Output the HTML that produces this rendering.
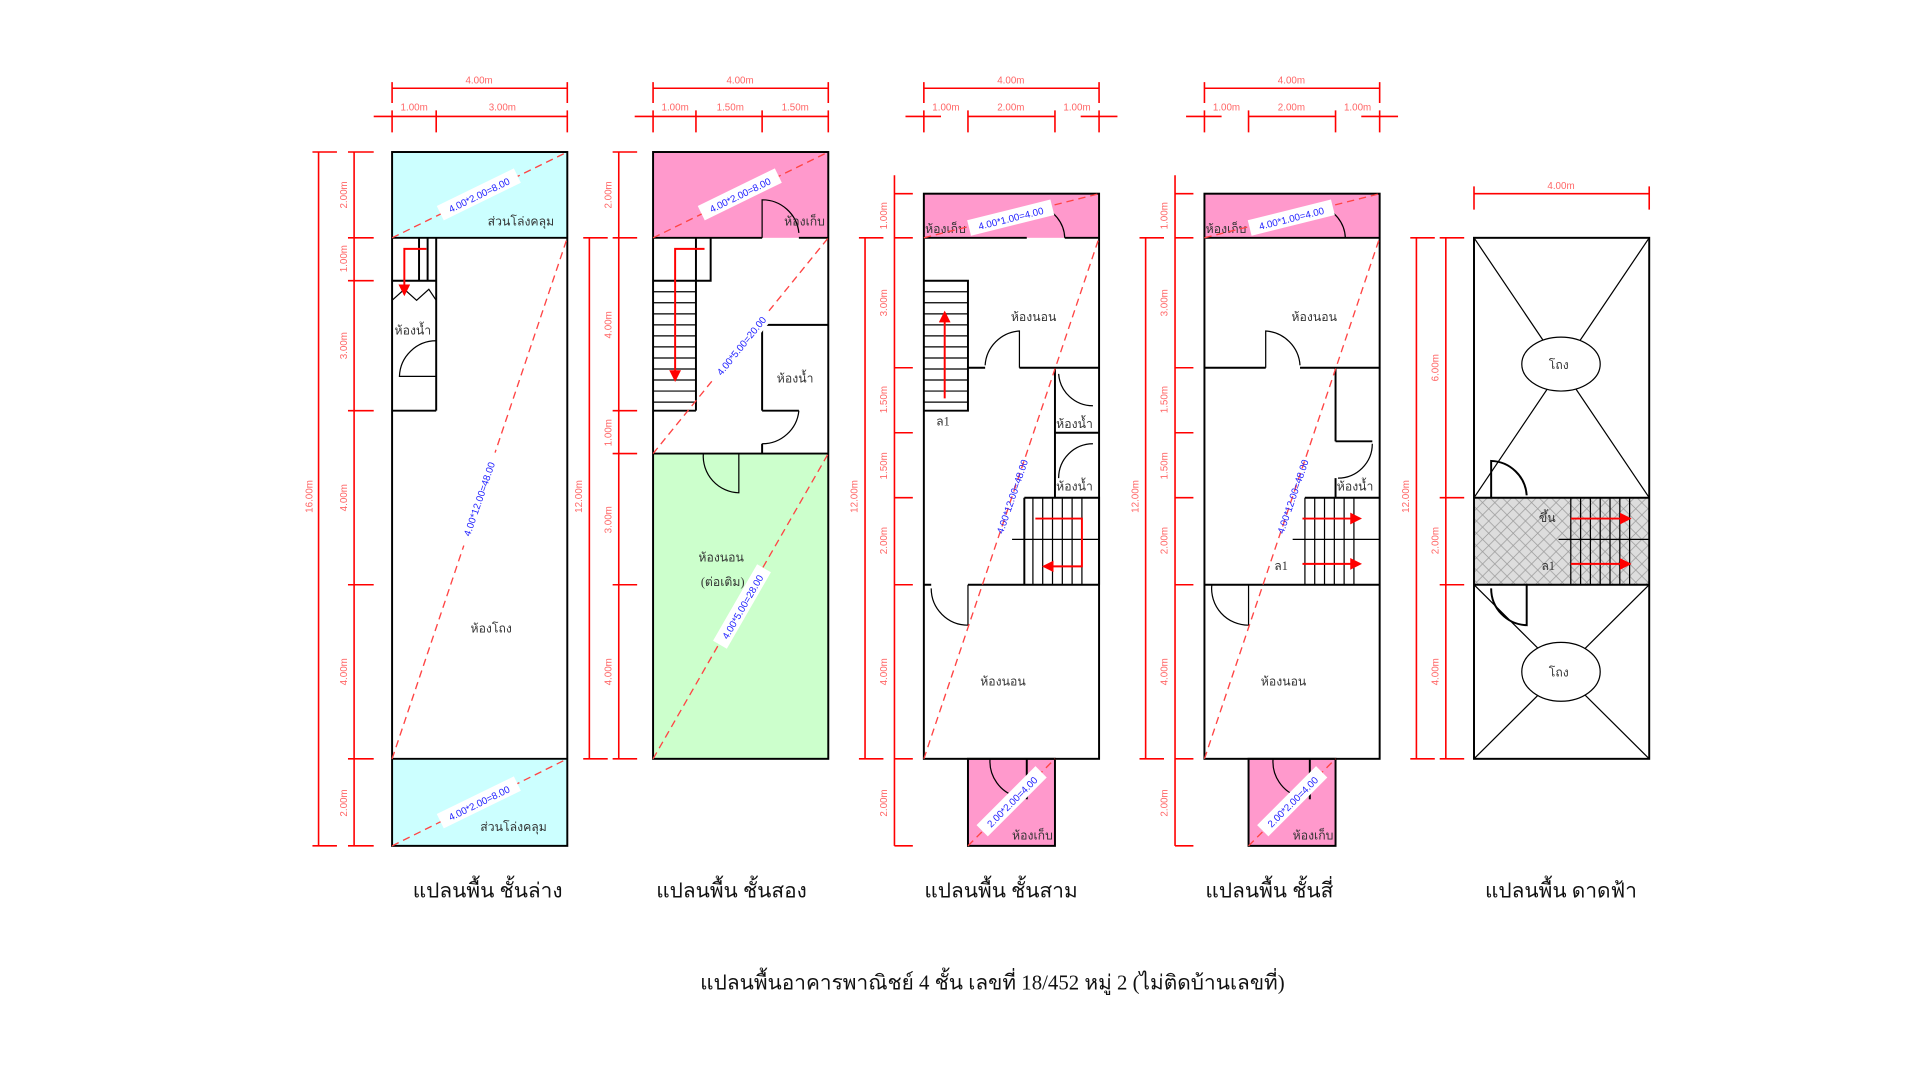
<!DOCTYPE html>
<html><head><meta charset="utf-8"><style>
html,body{margin:0;padding:0;background:#fff;width:1920px;height:1080px;overflow:hidden}
svg{display:block}
.w{stroke:#000;stroke-width:1.6;fill:none}
.t{stroke:#000;stroke-width:1;fill:none}
.d{stroke:#f00;stroke-width:1.3;fill:none}
.dg{stroke:#f44;stroke-width:1.1;stroke-dasharray:6 4;fill:none}
.dl{font-family:"Liberation Sans",sans-serif;font-size:8px;fill:#f66}
.bl{font-family:"Liberation Sans",sans-serif;font-size:8px;fill:#22f}
.th{font-family:"Liberation Serif","DejaVu Sans",sans-serif;font-size:10px;fill:#333}
.ti{font-family:"Liberation Serif","DejaVu Sans",sans-serif;font-size:17px;fill:#111}
.ar{stroke:#f00;stroke-width:1.6;fill:none}
</style></head><body>
<svg width="1920" height="1080" viewBox="0 0 1567 881" preserveAspectRatio="none" xmlns="http://www.w3.org/2000/svg">
<defs>
<marker id="ah" markerWidth="6" markerHeight="6" refX="5" refY="3" orient="auto"><path d="M0,0L6,3L0,6z" fill="#f00"/></marker>
<pattern id="hat" width="10" height="10" patternUnits="userSpaceOnUse"><rect width="10" height="10" fill="#ddd"/><path d="M0,0L10,10M10,0L0,10" stroke="#999" stroke-width="0.6"/></pattern>
</defs>

<!-- ================= PLAN 1 ================= -->
<rect x="320" y="124" width="143" height="70" fill="#ccffff"/>
<rect x="320" y="619" width="143" height="71" fill="#ccffff"/>
<rect x="320" y="124" width="143" height="566" class="w"/>
<path d="M320 194H463M320 619H463M356 194V335M320 229H356M320 335H356M342 194V229M349 194V229" class="w"/>
<path d="M320 245L330 236L340 245L350 236L356 245" class="t"/>
<path d="M356 278A30 30 0 0 0 326 307H356" class="t"/>
<path class="ar" d="M348 203H330V240" marker-end="url(#ah)"/>
<text x="322" y="273" class="th">ห้องน้ำ</text>
<text x="398" y="184" class="th">ส่วนโล่งคลุม</text>
<text x="384" y="516" class="th" font-size="12">ห้องโถง</text>
<text x="392" y="678" class="th">ส่วนโล่งคลุม</text>
<path d="M320 194L463 124M320 619L463 194M320 690L463 619" class="dg"/>
<g transform="translate(391,159) rotate(-26)"><rect x="-35" y="-7" width="70" height="13" fill="#fff"/><text x="0" y="3" class="bl" text-anchor="middle">4.00*2.00=8.00</text></g>
<g transform="translate(391,407) rotate(-71)"><rect x="-40" y="-7" width="80" height="13" fill="#fff"/><text x="0" y="3" class="bl" text-anchor="middle">4.00*12.00=48.00</text></g>
<g transform="translate(391,655) rotate(-26)"><rect x="-35" y="-7" width="70" height="13" fill="#fff"/><text x="0" y="3" class="bl" text-anchor="middle">4.00*2.00=8.00</text></g>
<path class="d" d="M320 72H463M320 67V84M463 67V84M305 95H463M320 90V108M356 90V108M463 90V108"/>
<text x="391" y="68" class="dl" text-anchor="middle">4.00m</text>
<text x="338" y="90" class="dl" text-anchor="middle">1.00m</text>
<text x="410" y="90" class="dl" text-anchor="middle">3.00m</text>
<path class="d" d="M260 124V690M255 124H275M255 690H275M289 124V690M284 124H305M284 194H305M284 229H305M284 335H305M284 477H305M284 619H305M284 690H305"/>
<text transform="translate(255,405) rotate(-90)" class="dl" text-anchor="middle">16.00m</text>
<text transform="translate(283,159) rotate(-90)" class="dl" text-anchor="middle">2.00m</text>
<text transform="translate(283,211) rotate(-90)" class="dl" text-anchor="middle">1.00m</text>
<text transform="translate(283,282) rotate(-90)" class="dl" text-anchor="middle">3.00m</text>
<text transform="translate(283,406) rotate(-90)" class="dl" text-anchor="middle">4.00m</text>
<text transform="translate(283,548) rotate(-90)" class="dl" text-anchor="middle">4.00m</text>
<text transform="translate(283,655) rotate(-90)" class="dl" text-anchor="middle">2.00m</text>

<!-- ================= PLAN 2 ================= -->
<rect x="533" y="124" width="143" height="70" fill="#ff99cc"/>
<rect x="533" y="370" width="143" height="249" fill="#ccffcc"/>
<rect x="533" y="124" width="143" height="495" class="w" stroke-width="2"/>
<path d="M533 194H622M652 194H676M533 370H676M568 194V335M533 229H580V194M533 335H568M622 265H676M622 265V335M622 335H652M622 362V370" class="w"/>
<g class="t"><path d="M533 238H568M533 247H568M533 256H568M533 265H568M533 274H568M533 283H568M533 292H568M533 301H568M533 310H568M533 319H568M533 328H568"/></g>
<path d="M622 194V163A30 30 0 0 1 652 190" class="t"/>
<path d="M652 335A30 30 0 0 1 622 362" class="t"/>
<path d="M574 370A30 30 0 0 0 603 402V370" class="t"/>
<path class="ar" d="M575 203H551V310" marker-end="url(#ah)"/>
<text x="640" y="184" class="th">ห้องเก็บ</text>
<text x="634" y="312" class="th" font-size="12">ห้องน้ำ</text>
<text x="570" y="458" class="th" font-size="12">ห้องนอน</text>
<text x="572" y="478" class="th" font-size="12">(ต่อเติม)</text>
<path d="M533 194L676 124M533 370L676 194M533 619L676 370" class="dg"/>
<g transform="translate(604,159) rotate(-26)"><rect x="-35" y="-7" width="70" height="13" fill="#fff"/><text x="0" y="3" class="bl" text-anchor="middle">4.00*2.00=8.00</text></g>
<g transform="translate(605,282) rotate(-51)"><rect x="-36" y="-7" width="72" height="13" fill="#fff"/><text x="0" y="3" class="bl" text-anchor="middle">4.00*5.00=20.00</text></g>
<g transform="translate(606,495) rotate(-60)"><rect x="-36" y="-7" width="72" height="13" fill="#fff"/><text x="0" y="3" class="bl" text-anchor="middle">4.00*5.00=28.00</text></g>
<path class="d" d="M533 72H676M533 67V84M676 67V84M518 95H676M533 90V108M568 90V108M622 90V108M676 90V108"/>
<text x="604" y="68" class="dl" text-anchor="middle">4.00m</text>
<text x="551" y="90" class="dl" text-anchor="middle">1.00m</text>
<text x="596" y="90" class="dl" text-anchor="middle">1.50m</text>
<text x="649" y="90" class="dl" text-anchor="middle">1.50m</text>
<path class="d" d="M481 194V619M476 194H496M476 619H496M505 124V619M500 124H520M500 194H520M500 335H520M500 370H520M500 477H520M500 619H520"/>
<text transform="translate(475,405) rotate(-90)" class="dl" text-anchor="middle">12.00m</text>
<text transform="translate(499,159) rotate(-90)" class="dl" text-anchor="middle">2.00m</text>
<text transform="translate(499,265) rotate(-90)" class="dl" text-anchor="middle">4.00m</text>
<text transform="translate(499,353) rotate(-90)" class="dl" text-anchor="middle">1.00m</text>
<text transform="translate(499,424) rotate(-90)" class="dl" text-anchor="middle">3.00m</text>
<text transform="translate(499,548) rotate(-90)" class="dl" text-anchor="middle">4.00m</text>

<!-- ================= PLAN 3 ================= -->
<rect x="754" y="158" width="143" height="36" fill="#ff99cc"/>
<rect x="790" y="619" width="71" height="71" fill="#ff99cc"/>
<rect x="754" y="158" width="143" height="461" class="w"/>
<rect x="790" y="619" width="71" height="71" class="w"/>
<path d="M754 194H838M869 194H897M790 300H804M832 300H861V406M861 300H897M861 353H897M861 406H897M754 477H760M790 477H897M836 406H897V477M836 406V477" class="w"/>
<path d="M754 229H790V335H754" class="w"/>
<g class="t"><path d="M754 238H790M754 247H790M754 256H790M754 265H790M754 274H790M754 283H790M754 292H790M754 301H790M754 310H790M754 319H790M754 328H790M843 406V477M851 406V477M859 406V477M867 406V477M875 406V477M883 406V477M826 440H897"/></g>
<path class="ar" d="M771 325V255" marker-end="url(#ah)"/>
<path class="ar" d="M845 423H883V462H852" marker-end="url(#ah)"/>
<path d="M832 300V270A30 30 0 0 0 804 298" class="t"/>
<path d="M869 194A28 28 0 0 0 848 168" class="t"/>
<path d="M864 305A28 28 0 0 0 892 331" class="t"/>
<path d="M864 390A28 28 0 0 1 892 362" class="t"/>
<path d="M790 477V510A30 30 0 0 1 760 480" class="t"/>
<path d="M838 619V652" class="w" stroke-width="2"/><path d="M808 619A30 30 0 0 0 830 650" class="t"/>
<text x="755" y="190" class="th">ห้องเก็บ</text>
<text x="825" y="262" class="th" font-size="12">ห้องนอน</text>
<text x="862" y="349" class="th">ห้องน้ำ</text>
<text x="862" y="400" class="th">ห้องน้ำ</text>
<text x="764" y="347" class="th">ล1</text>
<text x="800" y="559" class="th" font-size="12">ห้องนอน</text>
<text x="826" y="685" class="th">ห้องเก็บ</text>
<path d="M754 194L897 158M754 619L897 194M790 690L861 619" class="dg"/>
<g transform="translate(825,178) rotate(-14)"><rect x="-35" y="-7" width="70" height="13" fill="#fff"/><text x="0" y="3" class="bl" text-anchor="middle">4.00*1.00=4.00</text></g>
<g transform="translate(826,405) rotate(-71)"><text x="0" y="3" class="bl" text-anchor="middle">4.00*12.00=48.00</text></g>
<g transform="translate(826,654) rotate(-45)"><rect x="-34" y="-7" width="68" height="13" fill="#fff"/><text x="0" y="3" class="bl" text-anchor="middle">2.00*2.00=4.00</text></g>
<path class="d" d="M754 72H897M754 67V84M897 67V84M739 95H768M790 95H861M882 95H912M754 90V108M790 90V108M861 90V108M897 90V108"/>
<text x="825" y="68" class="dl" text-anchor="middle">4.00m</text>
<text x="772" y="90" class="dl" text-anchor="middle">1.00m</text>
<text x="825" y="90" class="dl" text-anchor="middle">2.00m</text>
<text x="879" y="90" class="dl" text-anchor="middle">1.00m</text>
<path class="d" d="M706 194V619M701 194H721M701 619H721M730 143V690M730 158H745M730 194H745M730 300H745M730 353H745M730 406H745M730 477H745M730 619H745M730 690H745"/>
<text transform="translate(700,405) rotate(-90)" class="dl" text-anchor="middle">12.00m</text>
<text transform="translate(724,176) rotate(-90)" class="dl" text-anchor="middle">1.00m</text>
<text transform="translate(724,247) rotate(-90)" class="dl" text-anchor="middle">3.00m</text>
<text transform="translate(724,326) rotate(-90)" class="dl" text-anchor="middle">1.50m</text>
<text transform="translate(724,380) rotate(-90)" class="dl" text-anchor="middle">1.50m</text>
<text transform="translate(724,441) rotate(-90)" class="dl" text-anchor="middle">2.00m</text>
<text transform="translate(724,548) rotate(-90)" class="dl" text-anchor="middle">4.00m</text>
<text transform="translate(724,655) rotate(-90)" class="dl" text-anchor="middle">2.00m</text>

<!-- ================= PLAN 4 ================= -->
<rect x="983" y="158" width="143" height="36" fill="#ff99cc"/>
<rect x="1019" y="619" width="71" height="71" fill="#ff99cc"/>
<rect x="983" y="158" width="143" height="461" class="w"/>
<rect x="1019" y="619" width="71" height="71" class="w"/>
<path d="M983 194H1126M983 300H1033M1061 300H1126M1090 300V360M1090 360H1120M1090 390V406M1065 406H1126M983 477H1126" class="w"/>
<g class="t"><path d="M1065 406V477M1073 406V477M1081 406V477M1089 406V477M1097 406V477M1105 406V477M1055 440H1126"/></g>
<path class="ar" d="M1063 423H1110" marker-end="url(#ah)"/>
<path class="ar" d="M1063 460H1110" marker-end="url(#ah)"/>
<path d="M1033 300V270A30 30 0 0 1 1061 298" class="t"/>
<path d="M1098 194A28 28 0 0 0 1077 168" class="t"/>
<path d="M1120 362A28 28 0 0 1 1092 390" class="t"/>
<path d="M989 477A30 30 0 0 0 1019 510V477" class="t"/>
<path d="M1069 619V652" class="w" stroke-width="2"/><path d="M1039 619A30 30 0 0 0 1060 650" class="t"/>
<text x="984" y="190" class="th">ห้องเก็บ</text>
<text x="1054" y="262" class="th" font-size="12">ห้องนอน</text>
<text x="1091" y="400" class="th">ห้องน้ำ</text>
<text x="1040" y="465" class="th">ล1</text>
<text x="1029" y="559" class="th" font-size="12">ห้องนอน</text>
<text x="1055" y="685" class="th">ห้องเก็บ</text>
<path d="M983 194L1126 158M983 619L1126 194M1019 690L1090 619" class="dg"/>
<g transform="translate(1054,178) rotate(-14)"><rect x="-35" y="-7" width="70" height="13" fill="#fff"/><text x="0" y="3" class="bl" text-anchor="middle">4.00*1.00=4.00</text></g>
<g transform="translate(1055,405) rotate(-71)"><text x="0" y="3" class="bl" text-anchor="middle">4.00*12.00=48.00</text></g>
<g transform="translate(1055,654) rotate(-45)"><rect x="-34" y="-7" width="68" height="13" fill="#fff"/><text x="0" y="3" class="bl" text-anchor="middle">2.00*2.00=4.00</text></g>
<path class="d" d="M983 72H1126M983 67V84M1126 67V84M968 95H997M1019 95H1090M1111 95H1141M983 90V108M1019 90V108M1090 90V108M1126 90V108"/>
<text x="1054" y="68" class="dl" text-anchor="middle">4.00m</text>
<text x="1001" y="90" class="dl" text-anchor="middle">1.00m</text>
<text x="1054" y="90" class="dl" text-anchor="middle">2.00m</text>
<text x="1108" y="90" class="dl" text-anchor="middle">1.00m</text>
<path class="d" d="M935 194V619M930 194H950M930 619H950M959 143V690M959 158H974M959 194H974M959 300H974M959 353H974M959 406H974M959 477H974M959 619H974M959 690H974"/>
<text transform="translate(929,405) rotate(-90)" class="dl" text-anchor="middle">12.00m</text>
<text transform="translate(953,176) rotate(-90)" class="dl" text-anchor="middle">1.00m</text>
<text transform="translate(953,247) rotate(-90)" class="dl" text-anchor="middle">3.00m</text>
<text transform="translate(953,326) rotate(-90)" class="dl" text-anchor="middle">1.50m</text>
<text transform="translate(953,380) rotate(-90)" class="dl" text-anchor="middle">1.50m</text>
<text transform="translate(953,441) rotate(-90)" class="dl" text-anchor="middle">2.00m</text>
<text transform="translate(953,548) rotate(-90)" class="dl" text-anchor="middle">4.00m</text>
<text transform="translate(953,655) rotate(-90)" class="dl" text-anchor="middle">2.00m</text>

<!-- ================= ROOF ================= -->
<rect x="1203" y="406" width="143" height="71" fill="url(#hat)"/>
<rect x="1203" y="194" width="143" height="425" class="w"/>
<path d="M1203 406H1346M1203 477H1346" class="w"/>
<path d="M1203 194L1346 406M1346 194L1203 406M1203 477L1346 619M1346 477L1203 619" class="t"/>
<ellipse cx="1274" cy="297" rx="32" ry="22" fill="#fff" stroke="#000"/>
<ellipse cx="1274" cy="548" rx="32" ry="24" fill="#fff" stroke="#000"/>
<g class="t"><path d="M1282 406V477M1290 406V477M1298 406V477M1306 406V477M1314 406V477M1322 406V477M1330 406V477M1272 440H1346"/></g>
<path d="M1217 406V376A30 30 0 0 1 1246 404" class="w" stroke-width="1"/>
<path d="M1246 477V510A30 30 0 0 1 1217 480" class="w" stroke-width="1"/>
<path class="ar" d="M1282 423H1330" marker-end="url(#ah)"/>
<path class="ar" d="M1282 460H1330" marker-end="url(#ah)"/>
<text x="1264" y="301" class="th">โถง</text>
<text x="1264" y="552" class="th">โถง</text>
<text x="1256" y="426" class="th">ขึ้น</text>
<text x="1258" y="465" class="th">ล1</text>
<path class="d" d="M1203 158H1346M1203 152V171M1346 152V171"/>
<text x="1274" y="154" class="dl" text-anchor="middle">4.00m</text>
<path class="d" d="M1156 194V619M1151 194H1171M1151 619H1171M1180 194V619M1175 194H1195M1175 406H1195M1175 477H1195M1175 619H1195"/>
<text transform="translate(1150,405) rotate(-90)" class="dl" text-anchor="middle">12.00m</text>
<text transform="translate(1174,300) rotate(-90)" class="dl" text-anchor="middle">6.00m</text>
<text transform="translate(1174,441) rotate(-90)" class="dl" text-anchor="middle">2.00m</text>
<text transform="translate(1174,548) rotate(-90)" class="dl" text-anchor="middle">4.00m</text>

<text x="398" y="732" class="ti" text-anchor="middle">แปลนพื้น ชั้นล่าง</text>
<text x="597" y="732" class="ti" text-anchor="middle">แปลนพื้น ชั้นสอง</text>
<text x="817" y="732" class="ti" text-anchor="middle">แปลนพื้น ชั้นสาม</text>
<text x="1036" y="732" class="ti" text-anchor="middle">แปลนพื้น ชั้นสี่</text>
<text x="1274" y="732" class="ti" text-anchor="middle">แปลนพื้น ดาดฟ้า</text>
<text x="810" y="807" class="ti" text-anchor="middle">แปลนพื้นอาคารพาณิชย์ 4 ชั้น เลขที่ 18/452 หมู่ 2 (ไม่ติดบ้านเลขที่)</text>
</svg>
</body></html>
